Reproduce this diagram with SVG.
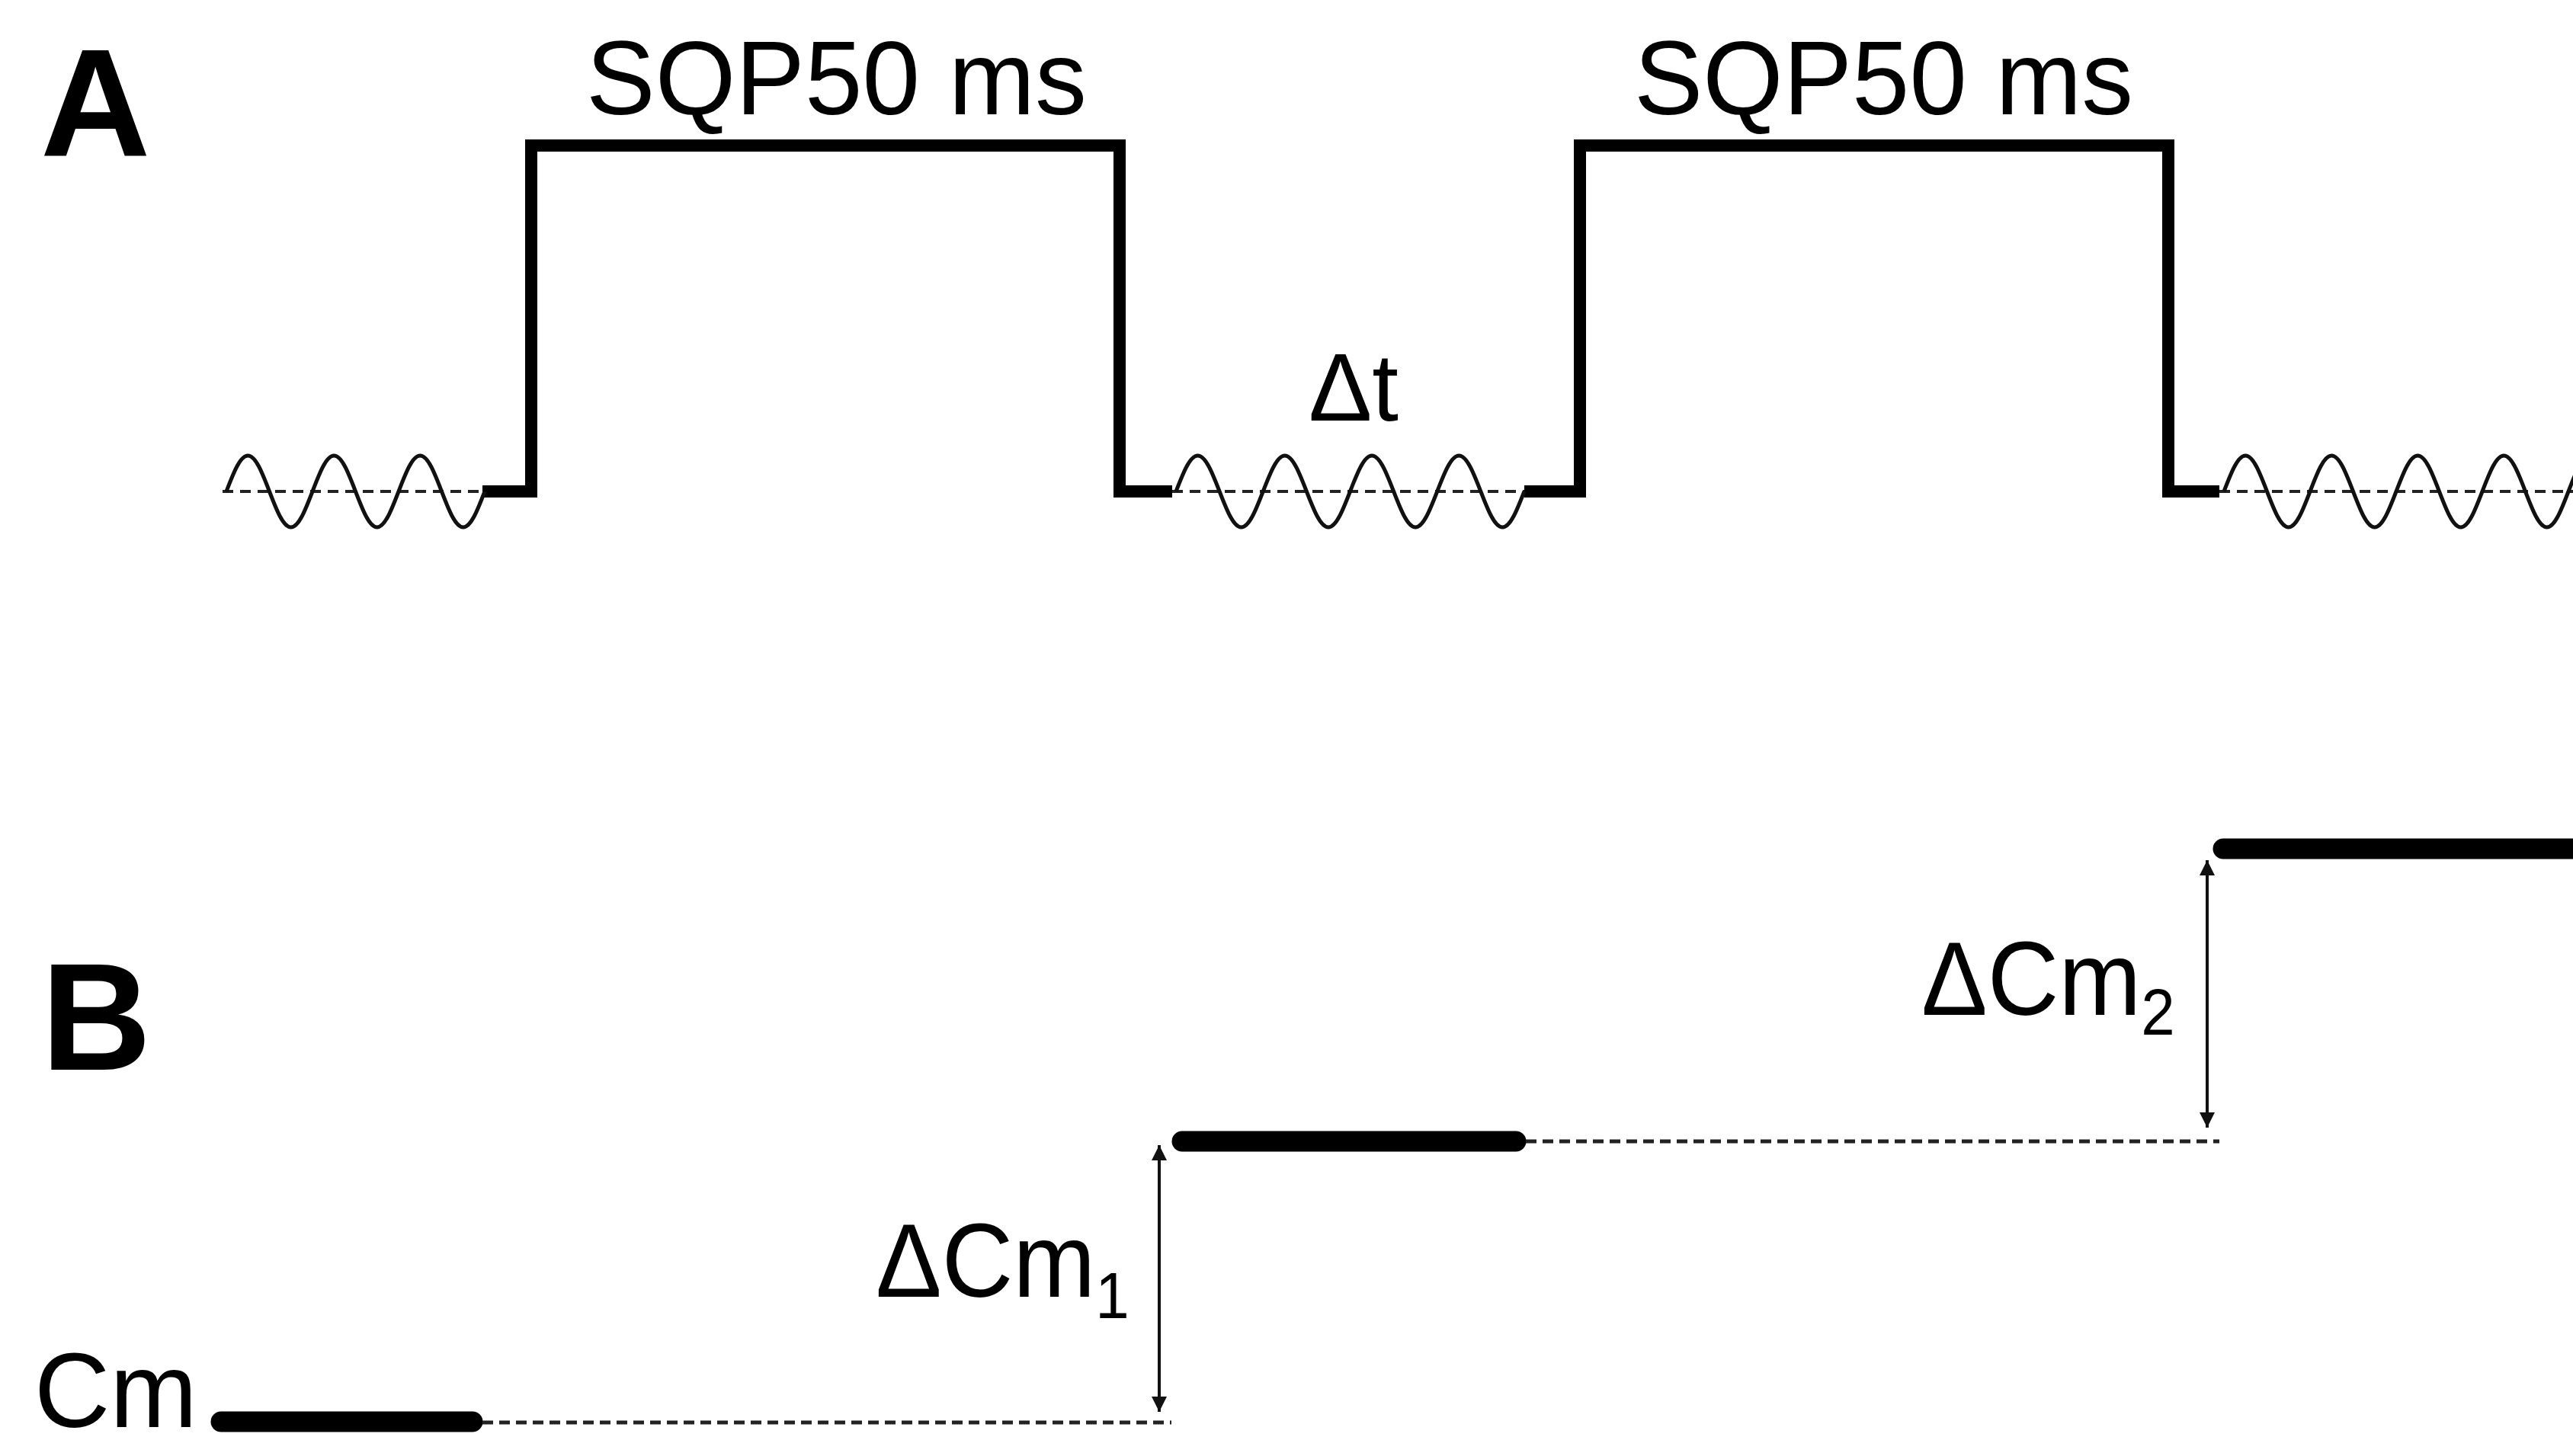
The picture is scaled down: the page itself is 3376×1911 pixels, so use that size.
<svg xmlns="http://www.w3.org/2000/svg" width="3376" height="1911" viewBox="0 0 3376 1911">
<defs>
<style>
.lbl{font-family:"Liberation Sans",Arial,sans-serif;fill:#000;}
.panel{font-family:"Liberation Sans",Arial,sans-serif;font-weight:bold;font-size:200px;fill:#000;}
.pulse{fill:none;stroke:#000;stroke-width:16;stroke-linejoin:miter;stroke-linecap:butt;}
.wave{fill:none;stroke:#111;stroke-width:5;}
.dashA{fill:none;stroke:#222;stroke-width:4;stroke-dasharray:14 9;}
.dashB{fill:none;stroke:#222;stroke-width:5;stroke-dasharray:14 8;}
.level{fill:none;stroke:#000;stroke-width:27;stroke-linecap:round;}
.arrow{fill:none;stroke:#111;stroke-width:4;marker-start:url(#ah);marker-end:url(#ah);}
</style>
<marker id="ah" viewBox="0 0 20 20" refX="20" refY="10" markerWidth="20" markerHeight="20" markerUnits="userSpaceOnUse" orient="auto-start-reverse">
<path d="M0,0 L20,10 L0,20 z" fill="#111"/>
</marker>
</defs>
<rect width="3376" height="1911" fill="#fff"/>

<g id="panelA">
<text class="panel" x="53" y="204">A</text>
</g>

<g id="pulse1">
<path class="pulse" d="M633,645 H697 V191 H1469 V645 H1538"/>
<text class="lbl" x="769" y="150" font-size="138" textLength="657" lengthAdjust="spacingAndGlyphs">SQP50 ms</text>
</g>

<g id="pulse2">
<path class="pulse" d="M2000,645 H2073 V191 H2845 V645 H2912"/>
<text class="lbl" x="2144" y="150" font-size="138" textLength="655" lengthAdjust="spacingAndGlyphs">SQP50 ms</text>
</g>

<g id="wave1">
<line class="dashA" x1="292" y1="645" x2="636" y2="645"/>
<path class="wave" d="M297,645 c9.21,-24.08 18.03,-47 28.25,-47 c10.22,0 19.04,22.92 28.25,47 c9.21,24.08 18.03,47 28.25,47 c10.22,0 19.04,-22.92 28.25,-47 c9.21,-24.08 18.03,-47 28.25,-47 c10.22,0 19.04,22.92 28.25,47 c9.21,24.08 18.03,47 28.25,47 c10.22,0 19.04,-22.92 28.25,-47 c9.21,-24.08 18.03,-47 28.25,-47 c10.22,0 19.04,22.92 28.25,47 c9.21,24.08 18.03,47 28.25,47 c10.22,0 19.04,-22.92 28.25,-47"/>
</g>

<g id="wave2">
<line class="dashA" x1="1538" y1="645" x2="2000" y2="645"/>
<path class="wave" d="M1543,645 c9.31,-24.08 18.23,-47 28.56,-47 c10.33,0 19.25,22.92 28.56,47 c9.31,24.08 18.23,47 28.56,47 c10.33,0 19.25,-22.92 28.56,-47 c9.31,-24.08 18.23,-47 28.56,-47 c10.33,0 19.25,22.92 28.56,47 c9.31,24.08 18.23,47 28.56,47 c10.33,0 19.25,-22.92 28.56,-47 c9.31,-24.08 18.23,-47 28.56,-47 c10.33,0 19.25,22.92 28.56,47 c9.31,24.08 18.23,47 28.56,47 c10.33,0 19.25,-22.92 28.56,-47 c9.31,-24.08 18.23,-47 28.56,-47 c10.33,0 19.25,22.92 28.56,47 c9.31,24.08 18.23,47 28.56,47 c10.33,0 19.25,-22.92 28.56,-47"/>
<text class="lbl" x="1717" y="552" font-size="126" textLength="118" lengthAdjust="spacingAndGlyphs">Δt</text>
</g>

<g id="wave3">
<line class="dashA" x1="2912" y1="645" x2="3376" y2="645"/>
<path class="wave" d="M2918,645 c9.21,-24.08 18.03,-47 28.25,-47 c10.22,0 19.04,22.92 28.25,47 c9.21,24.08 18.03,47 28.25,47 c10.22,0 19.04,-22.92 28.25,-47 c9.21,-24.08 18.03,-47 28.25,-47 c10.22,0 19.04,22.92 28.25,47 c9.21,24.08 18.03,47 28.25,47 c10.22,0 19.04,-22.92 28.25,-47 c9.21,-24.08 18.03,-47 28.25,-47 c10.22,0 19.04,22.92 28.25,47 c9.21,24.08 18.03,47 28.25,47 c10.22,0 19.04,-22.92 28.25,-47 c9.21,-24.08 18.03,-47 28.25,-47 c10.22,0 19.04,22.92 28.25,47 c9.21,24.08 18.03,47 28.25,47 c10.22,0 19.04,-22.92 28.25,-47 c9.21,-24.08 18.03,-47 28.25,-47 c10.22,0 19.04,22.92 28.25,47 c9.21,24.08 18.03,47 28.25,47 c10.22,0 19.04,-22.92 28.25,-47"/>
</g>

<g id="panelB">
<text class="panel" x="54" y="1404">B</text>
</g>

<g id="level0">
<text class="lbl" x="45" y="1873" font-size="140" textLength="214" lengthAdjust="spacingAndGlyphs">Cm</text>
<line class="level" x1="290" y1="1866" x2="620" y2="1866"/>
</g>

<g id="level1">
<line class="level" x1="1551" y1="1498" x2="1989" y2="1498"/>
<text class="lbl" font-size="138" transform="translate(1149,1702) scale(0.94,1)">ΔCm<tspan font-size="85" dy="28">1</tspan></text>
</g>

<g id="level2">
<line class="level" x1="2917" y1="1114" x2="3400" y2="1114"/>
<text class="lbl" font-size="138" transform="translate(2521,1332) scale(0.94,1)">ΔCm<tspan font-size="85" dy="26">2</tspan></text>
</g>

<g id="connectors">
<line class="dashB" x1="633" y1="1867" x2="1537" y2="1867"/>
<line class="dashB" x1="2002" y1="1498" x2="2912" y2="1498"/>
<line class="arrow" x1="1521" y1="1503" x2="1521" y2="1853"/>
<line class="arrow" x1="2896" y1="1129" x2="2896" y2="1480"/>
</g>
</svg>
